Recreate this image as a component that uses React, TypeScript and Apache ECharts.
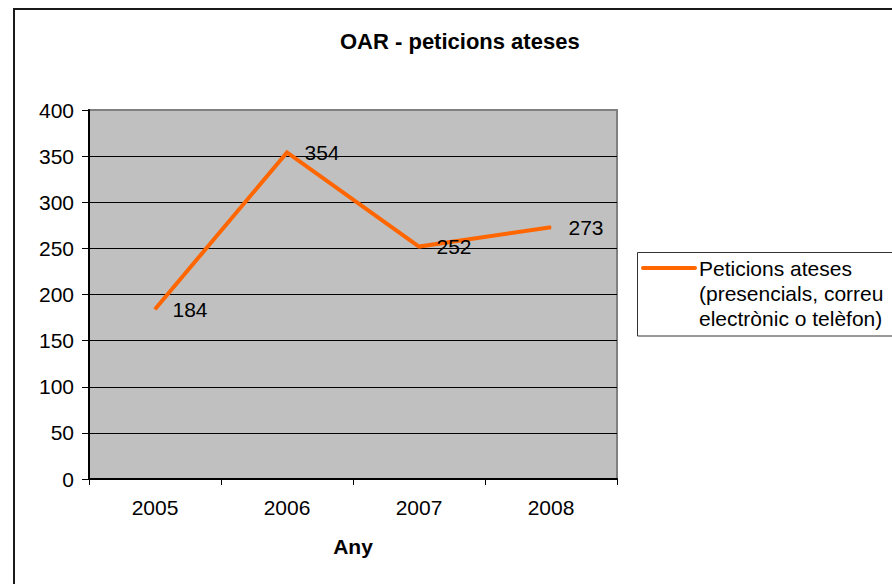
import React, { useEffect, useRef } from "react";
import * as echarts from "echarts";

const categories = ["2005", "2006", "2007", "2008"];
const values = [184, 354, 252, 273];
const seriesName = "Peticions ateses\n(presencials, correu\nelectrònic o telèfon)";
const titleText = "OAR - peticions ateses";
const xAxisName = "Any";

const FONT = "'Liberation Sans', Arial, sans-serif";

export default function App() {
  const ref = useRef<HTMLDivElement>(null);
  useEffect(() => {
    if (!ref.current) return;
    const chart = echarts.init(ref.current, null, { renderer: "svg" });
    chart.setOption({
      animation: false,
      backgroundColor: "#ffffff",
      textStyle: { fontFamily: FONT },
      title: {
        text: titleText,
        left: 340,
        top: 30,
        padding: 0,
        textStyle: { fontFamily: FONT, fontSize: 22, fontWeight: "bold", color: "#000" },
      },
      legend: { show: false },
      graphic: [
        {
          type: "rect",
          shape: { x: 14, y: 9, width: 920, height: 620 },
          style: { fill: "none", stroke: "#1a1a1a", lineWidth: 2 },
          z: 100,
          silent: true,
        },
        {
          type: "rect",
          shape: { x: 637.5, y: 252.5, width: 300, height: 83.5 },
          style: { fill: "none", stroke: "#333333", lineWidth: 1 },
          z: 100,
          silent: true,
        },
        {
          type: "line",
          shape: { x1: 643, y1: 268, x2: 695, y2: 268 },
          style: { stroke: "#FF6600", lineWidth: 4, lineCap: "round" },
          z: 100,
          silent: true,
        },
        {
          type: "text",
          x: 699,
          y: 256,
          style: {
            text: seriesName,
            fontFamily: FONT,
            fontSize: 21,
            lineHeight: 25,
            fill: "#000",
            align: "left",
            verticalAlign: "top",
          },
          z: 100,
          silent: true,
        },
      ],
      grid: {
        left: 89,
        right: 275,
        top: 110,
        bottom: 105,
        show: true,
        backgroundColor: "#C0C0C0",
        borderColor: "#808080",
        borderWidth: 2,
      },
      xAxis: {
        type: "category",
        data: categories,
        boundaryGap: true,
        name: xAxisName,
        nameLocation: "middle",
        nameGap: 57,
        nameTextStyle: { fontFamily: FONT, fontSize: 21, fontWeight: "bold", color: "#000" },
        axisLine: { show: true, lineStyle: { color: "#000", width: 2 } },
        axisTick: { show: true, length: 6, lineStyle: { color: "#000", width: 1 } },
        axisLabel: { fontFamily: FONT, fontSize: 21, color: "#000", margin: 18 },
        splitLine: { show: false },
      },
      yAxis: {
        type: "value",
        min: 0,
        max: 400,
        interval: 50,
        axisLine: { show: true, lineStyle: { color: "#000", width: 2 } },
        axisTick: { show: true, length: 7, lineStyle: { color: "#000", width: 1 } },
        axisLabel: { fontFamily: FONT, fontSize: 21, color: "#000", margin: 15 },
        splitLine: {
          show: true,
          showMinLine: false,
          showMaxLine: false,
          lineStyle: { color: "#000", width: 1 },
        },
      },
      series: [
        {
          name: seriesName,
          type: "line",
          data: values,
          color: "#FF6600",
          symbol: "circle",
          symbolSize: 1,
          showSymbol: true,
          lineStyle: { color: "#FF6600", width: 4, join: "miter" },
          itemStyle: { color: "#FF6600" },
          label: {
            show: true,
            position: "right",
            distance: 17,
            fontFamily: FONT,
            fontSize: 21,
            color: "#000",
          },
          emphasis: { disabled: true },
        },
      ],
    });
    return () => chart.dispose();
  }, []);
  return (
    <div
      ref={ref}
      style={{ position: "fixed", left: 0, top: 0, width: 892, height: 584 }}
    />
  );
}
